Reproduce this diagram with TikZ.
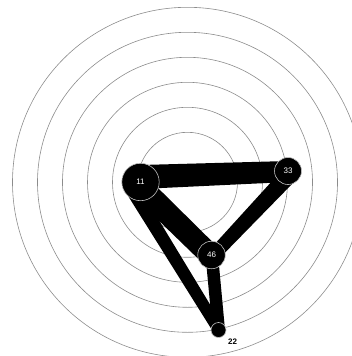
\documentclass[tikz,border=0pt]{standalone}
\usepackage{fontspec}
\setmainfont{Liberation Sans}
\usetikzlibrary{calc}
\pgfdeclarelayer{bg}
\pgfsetlayers{bg,main}
\newcommand\taperband[6]{%
  \fill[bandfill] ($(#1.center)!#3!90:(#2.center)$) -- ($(#2.center)!#4!-90:(#1.center)$)
    -- ($(#2.center)!#5!90:(#1.center)$) -- ($(#1.center)!#6!-90:(#2.center)$) -- cycle;}
\begin{document}
\begin{tikzpicture}[x=1pt,y=-1pt,
  ring/.style={draw=black!45,line width=0.6pt},
  bandfill/.style={fill=black},
  vtx/.style={circle,fill=black,draw=black!25,line width=0.6pt,inner sep=0pt,text=white,font=\fontsize{8}{9}\selectfont},
  outlbl/.style={font=\fontsize{8}{9}\selectfont\bfseries,text=black}]
\useasboundingbox (0,0) rectangle (352,356);
\node[vtx,minimum size=37.4pt] (n11) at (140.5,182) {11};
\node[vtx,minimum size=27pt] (n33) at (288,171) {33};
\node[vtx,minimum size=27.5pt] (n46) at (211.5,255) {46};
\node[vtx,minimum size=15pt] (n22) at (218.5,330) {};
\node[outlbl] (l22) at (232.5,341.5) {22};
\begin{pgfonlayer}{bg}
\begin{scope}
\clip (0,0) rectangle (352,356);
\foreach \r in {50,75,100,125,150,175}
  \draw[ring] (187.5,182.3) circle[radius=\r];
\end{scope}
\taperband{n11}{n33}{17pt}{10pt}{11pt}{7pt}
\taperband{n11}{n46}{8pt}{10pt}{12pt}{15pt}
\taperband{n11}{n22}{-4pt}{6pt}{5.5pt}{18pt}
\taperband{n33}{n46}{12pt}{8pt}{5pt}{5pt}
\taperband{n46}{n22}{6.5pt}{6.5pt}{6pt}{6pt}
\end{pgfonlayer}
\end{tikzpicture}
\end{document}
